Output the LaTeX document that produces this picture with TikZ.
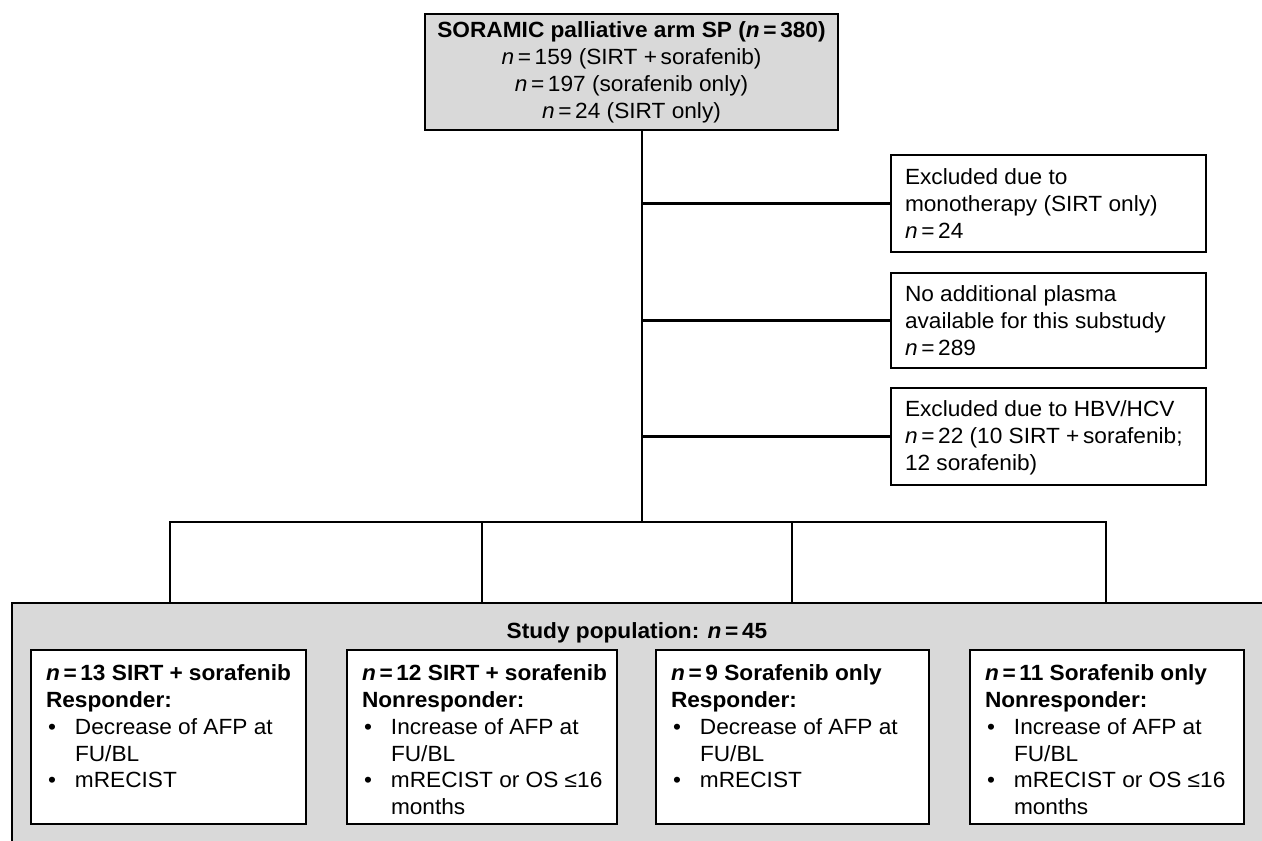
\documentclass[tikz,border=0pt]{standalone}
\usepackage{fontspec}
\setmainfont{Liberation Sans}[FakeStretch=1.03]
\definecolor{boxgray}{HTML}{D9D9D9}
\newcommand\bodyfont{\fontsize{22}{26.7}\selectfont}
\newcommand\boxtext[5]{\begin{minipage}[c][#2][t]{#1}\bodyfont\parindent=0pt #4\vspace*{#3}\strut #5\end{minipage}}
\newcommand\bul{\makebox[29pt][l]{\hspace{2pt}•}}
\newcommand\ind{\hspace*{29pt}}
\newcommand\nit{\textit{n}\,=\,}
\begin{document}
\begin{tikzpicture}[x=1pt,y=-1pt,
  frame/.style={draw=black, line width=2.2pt, inner sep=0pt, outer sep=0pt, anchor=north west},
  conn/.style={draw=black, line width=2.2pt, line join=miter}]
\clip (0,0) rectangle (1262,841);
\fill[white] (0,0) rectangle (1262,841);
% coordinates for connectors
\coordinate (bar) at (642,522);
\coordinate (d1) at (170,522);
\coordinate (d2) at (482,522);
\coordinate (d3) at (792,522);
\coordinate (d4) at (1106,522);
% boxes
\node[frame, fill=boxgray] (top) at (425,14) {\boxtext{413pt}{116pt}{5.3pt}{\centering}{\textbf{SORAMIC palliative arm SP (\textbf{\textit{n}}\,=\,380)}\\
\nit 159 (SIRT +\,sorafenib)\\
\nit 197 (sorafenib only)\\
\nit 24 (SIRT only)}};
\node[frame, fill=white] (ex1) at (891,155) {\boxtext{315pt}{97pt}{11.3pt}{\raggedright\leftskip=14pt}{Excluded due to\\ monotherapy (SIRT only)\\ \nit 24}};
\node[frame, fill=white] (ex2) at (891,273) {\boxtext{315pt}{95pt}{10.3pt}{\raggedright\leftskip=14pt}{No additional plasma\\ available for this substudy\\ \nit 289}};
\node[frame, fill=white] (ex3) at (891,388) {\boxtext{315pt}{97pt}{10.3pt}{\raggedright\leftskip=14pt}{Excluded due to HBV/HCV\\ \nit 22 (10 SIRT +\,sorafenib;\\ 12 sorafenib)}};
% connectors
\draw[conn] (top.south -| bar) -- (bar);
\draw[conn] (ex1.west -| bar) -- (ex1.west);
\draw[conn] (ex2.west -| bar) -- (ex2.west);
\draw[conn] (ex3.west -| bar) -- (ex3.west);
\draw[conn] (d1 |- 0,603) -- (d1) -- (d4) -- (d4 |- 0,603);
\draw[conn] (d2) -- (d2 |- 0,603);
\draw[conn] (d3) -- (d3 |- 0,603);
% study population
\node[frame, fill=boxgray, minimum width=1300pt, minimum height=300pt] (pop) at (12,603) {};
\node[anchor=base, inner sep=0pt] (poptxt) at (637,638) {\bodyfont\textbf{Study population: \textit{n}\,=\,45}};
\node[frame, fill=white] (ga) at (31,650) {\boxtext{275pt}{174pt}{12.3pt}{\raggedright\leftskip=15pt}{\textbf{\textit{n}\,=\,13 SIRT\;+\;sorafenib}\\
\textbf{Responder:}\\
\bul Decrease of AFP at\\
\ind FU/BL\\
\bul mRECIST}};
\node[frame, fill=white] (gb) at (347,650) {\boxtext{270pt}{174pt}{12.3pt}{\raggedright\leftskip=15pt}{\textbf{\textit{n}\,=\,12 SIRT\;+\;sorafenib}\\
\textbf{Nonresponder:}\\
\bul Increase of AFP at\\
\ind FU/BL\\
\bul mRECIST or OS ≤16\\
\ind months}};
\node[frame, fill=white] (gc) at (656,650) {\boxtext{273pt}{174pt}{12.3pt}{\raggedright\leftskip=15pt}{\textbf{\textit{n}\,=\,9 Sorafenib only}\\
\textbf{Responder:}\\
\bul Decrease of AFP at\\
\ind FU/BL\\
\bul mRECIST}};
\node[frame, fill=white] (gd) at (970,650) {\boxtext{274pt}{174pt}{12.3pt}{\raggedright\leftskip=15pt}{\textbf{\textit{n}\,=\,11 Sorafenib only}\\
\textbf{Nonresponder:}\\
\bul Increase of AFP at\\
\ind FU/BL\\
\bul mRECIST or OS ≤16\\
\ind months}};
\end{tikzpicture}
\end{document}
